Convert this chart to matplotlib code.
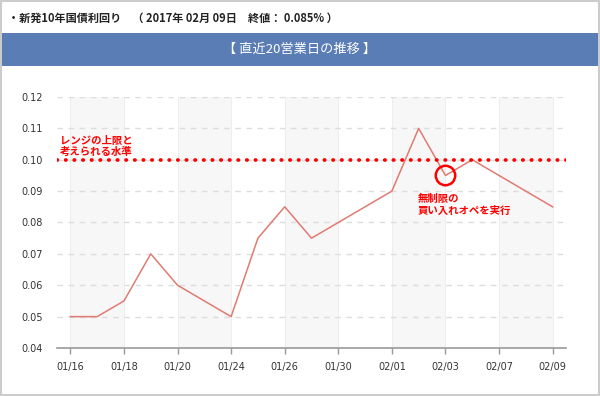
import matplotlib
import matplotlib.pyplot as plt
from matplotlib.patches import Rectangle

matplotlib.rcParams['font.family'] = ['Noto Sans CJK JP', 'DejaVu Sans']

DATES = ["01/16", "01/17", "01/18", "01/19", "01/20", "01/23", "01/24", "01/25",
         "01/26", "01/27", "01/30", "01/31", "02/01", "02/02", "02/03", "02/06",
         "02/07", "02/08", "02/09"]
YIELDS = [0.050, 0.050, 0.055, 0.070, 0.060, 0.055, 0.050, 0.075, 0.085, 0.075,
          0.080, 0.085, 0.090, 0.110, 0.095, 0.100, 0.095, 0.090, 0.085]
RANGE_UPPER = 0.10
OPERATION_DATE = "02/03"
Y_TICKS = [0.04, 0.05, 0.06, 0.07, 0.08, 0.09, 0.10, 0.11, 0.12]

TITLE = "・新発10年国債利回り　（ 2017年 02月 09日　終値： 0.085% ）"
HEADER = "【 直近20営業日の推移 】"
NOTE_RANGE = "レンジの上限と\n考えられる水準"
NOTE_OPERATION = "無制限の\n買い入れオペを実行"

LINE_COLOR = "#e07b72"
RED = "#ff0000"
HEADER_BLUE = "#5a7db5"
TICK_FONT = "DejaVu Sans"


def main() -> None:
    fig = plt.figure(figsize=(6, 3.96), dpi=100)

    # outer frame + header bar
    fig.patches.append(Rectangle((0.002, 0.002), 0.996, 0.996, transform=fig.transFigure,
                                 fill=False, edgecolor="#cccccc", linewidth=1.5))
    fig.patches.append(Rectangle((0.004, 1 - 66 / 396), 0.992, 33 / 396, transform=fig.transFigure,
                                 facecolor=HEADER_BLUE, edgecolor="none"))
    fig.text(8 / 600, 1 - 18 / 396, TITLE, fontsize=8, fontweight="bold",
             va="center", ha="left", color="#222222")
    fig.text(0.5, 1 - 49 / 396, HEADER, fontsize=9.5, va="center", ha="center", color="white")

    ax = fig.add_axes([57 / 600, 1 - 348 / 396, 509 / 600, 251 / 396])
    x = list(range(len(DATES)))

    # alternating background bands
    for i in range(0, len(DATES) - 1, 4):
        ax.axvspan(x[i], x[i + 2], color="#f7f7f7", zorder=0, linewidth=0)
    for i in range(0, len(DATES), 2):
        ax.axvline(x[i], color="#eeeeee", linewidth=0.8, zorder=0.5)

    for v in Y_TICKS[1:]:
        ax.axhline(v, color="#dddddd", linestyle=(0, (4, 4)), linewidth=1, zorder=1)

    ax.plot(x, YIELDS, color=LINE_COLOR, linewidth=1.1, zorder=3)

    ax.axhline(RANGE_UPPER, color=RED, linewidth=2.7, linestyle=(0, (0.1, 2.2)),
               dash_capstyle="round", zorder=4)

    op_idx = DATES.index(OPERATION_DATE)
    ax.plot([x[op_idx]], [YIELDS[op_idx]], marker="o", markersize=14,
            markerfacecolor="none", markeredgecolor=RED, markeredgewidth=1.8, zorder=5)

    ax.text(-0.38, 0.1042, NOTE_RANGE, fontsize=7.5, fontweight="bold", color=RED,
            va="center", ha="left", linespacing=1.2, zorder=6)
    ax.text(x[op_idx] - 1.03, 0.0855, NOTE_OPERATION, fontsize=7.5, fontweight="bold",
            color=RED, va="center", ha="left", linespacing=1.2, zorder=6)

    ax.set_xlim(-0.5, len(DATES) - 0.5)
    ax.set_ylim(0.04, 0.12)
    ax.set_yticks(Y_TICKS)
    ax.set_yticklabels([f"{v:.2f}" for v in Y_TICKS], family=TICK_FONT)
    ax.set_xticks(x[::2])
    ax.set_xticklabels(DATES[::2], family=TICK_FONT)
    ax.tick_params(axis="y", length=0, labelsize=7, pad=10, colors="#333333")
    ax.tick_params(axis="x", length=4, width=1, color="#999999", labelsize=7, pad=6,
                   labelcolor="#333333")

    for side in ["top", "right", "left"]:
        ax.spines[side].set_visible(False)
    ax.spines["bottom"].set_color("#999999")
    ax.spines["bottom"].set_linestyle((0, (4, 1)))
    ax.spines["bottom"].set_linewidth(1.2)

    fig.savefig("out.png", dpi=100)
    plt.close(fig)


if __name__ == "__main__":
    main()
